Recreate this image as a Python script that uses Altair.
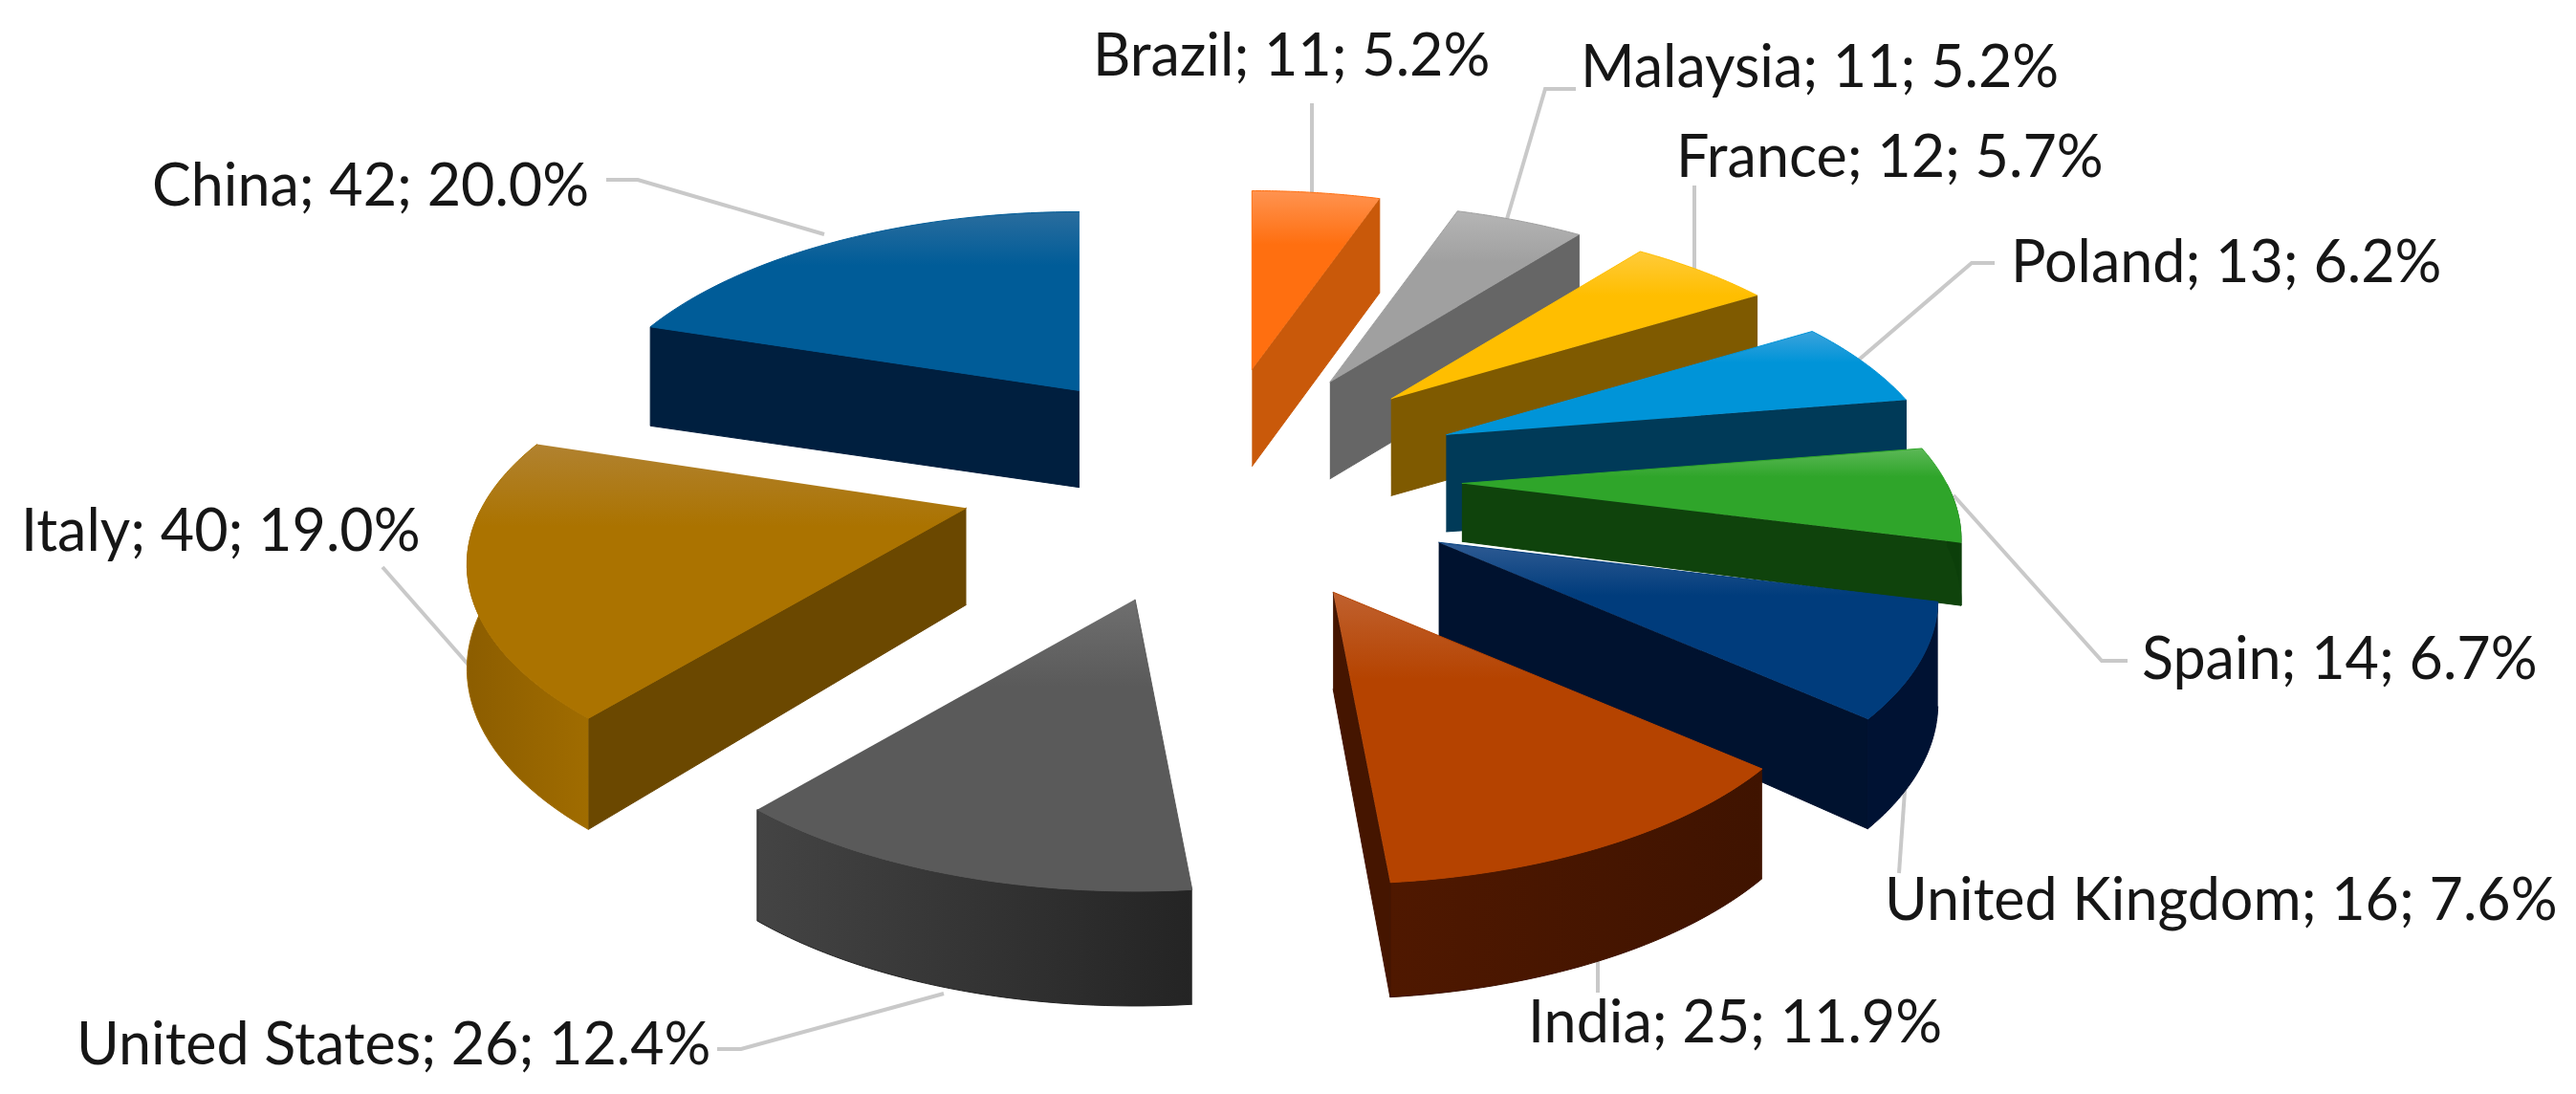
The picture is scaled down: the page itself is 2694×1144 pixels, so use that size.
import math
import altair as alt
import pandas as pd

names = ["Brazil", "Malaysia", "France", "Poland", "Spain", "United Kingdom", "India", "United States", "Italy", "China"]
values = [11, 11, 12, 13, 14, 16, 25, 26, 40, 42]

# face colours: highlight, top, outer wall left, outer wall right, cut wall
palette = {
    "Brazil": ("#ff9350", "#ff6f10", "#c85a10", "#c85a10", "#c9590a"),
    "Malaysia": ("#b5b5b5", "#a0a0a0", "#666666", "#666666", "#666666"),
    "France": ("#ffcb3a", "#ffbe00", "#7f5a00", "#7f5a00", "#7f5a00"),
    "Poland": ("#3ba3dc", "#0094d8", "#003a58", "#003a58", "#003a58"),
    "Spain": ("#5cb857", "#2fa52a", "#0c3f0a", "#0c3f0a", "#0f430c"),
    "United Kingdom": ("#2f5b93", "#003c7c", "#001233", "#001233", "#00122f"),
    "India": ("#c0612f", "#b54300", "#4f1800", "#3f1300", "#451500"),
    "United States": ("#6f6f6f", "#5a5a5a", "#444444", "#242424", "#2b2b2b"),
    "Italy": ("#b18230", "#ab7300", "#8c5d00", "#a06c00", "#6b4800"),
    "China": ("#2a6d9e", "#005c98", "#001f3f", "#001f3f", "#001f3f"),
}
draw_order = ["Brazil", "Malaysia", "France", "Poland", "Spain", "United Kingdom", "China", "Italy", "United States", "India"]

# small per-slice shifts of the exploded apex (layout, shrunk-reference pixels)
nudge = {
    "France": (-4, -5), "Poland": (0, -6), "Spain": (0, -5), "United Kingdom": (4, 0),
    "India": (6, 0), "United States": (-1, 0), "Italy": (-2, -7), "China": (10, 0),
}
depth_factor = {"Spain": 0.6}

# label anchors and leader polylines, in reference pixels
label_at = {
    "Brazil": (1143, 61), "Malaysia": (1653, 73), "France": (1753, 167), "Poland": (2103, 277),
    "Spain": (2240, 692), "United Kingdom": (1971, 944), "India": (1598, 1072),
    "United States": (80, 1095), "Italy": (22, 558), "China": (159, 197),
}
leaders = {
    "Brazil": [(1372, 108), (1372, 202)],
    "Malaysia": [(1648, 93), (1616, 93), (1576, 229)],
    "France": [(1772, 194), (1772, 284)],
    "Poland": [(2086, 275), (2062, 275), (1943, 377)],
    "Spain": [(2225, 691), (2198, 691), (2043, 518)],
    "United Kingdom": [(1986, 913), (1993, 813)],
    "India": [(1671, 1038), (1671, 999)],
    "United States": [(750, 1097), (775, 1097), (987, 1039)],
    "Italy": [(400, 593), (502, 709)],
    "China": [(634, 188), (667, 188), (862, 245)],
}

W, H = 2678, 1128
S = 2694 / 1568
CX, CY, EX, EY = 737 * S, 296 * S, 153 * S, 72 * S   # pie centre and explosion
RX, RY = 295 * S, 135 * S                            # radii of the tilted disc
PERSP = 0.24
DEPTH = 62 * S

xs = alt.X("x:Q", axis=None, scale=alt.Scale(domain=[8, 8 + W], range=[0, W], nice=False, zero=False))
ys = alt.Y("y:Q", axis=None, scale=alt.Scale(domain=[8, 8 + H], range=[0, H], nice=False, zero=False))

total = sum(values)
fracs = {}
acc = 0
for n, v in zip(names, values):
    fracs[n] = (acc / total * 2 * math.pi, (acc + v) / total * 2 * math.pi)
    acc += v


def rim(ax, ay, t):
    s = 1 / (1 + PERSP * math.cos(t))
    return ax + RX * math.sin(t) * s, ay - RY * math.cos(t) * s


def depth(t):
    s = 1 / (1 + PERSP * math.cos(t))
    return DEPTH * (1 + (s - 1) * 0.4)


def face(points, fill):
    df = pd.DataFrame([{"x": x, "y": y, "i": i} for i, (x, y) in enumerate(points)])
    stroke = fill if isinstance(fill, str) else fill.stops[-1].color
    return alt.Chart(df).mark_line(fill=fill, stroke=stroke, strokeWidth=1, clip=False).encode(
        x=xs, y=ys, order="i:Q")


def vgrad(c0, c1):
    return alt.Gradient(gradient="linear", x1=0, y1=0, x2=0, y2=1,
                        stops=[alt.GradientStop(color=c0, offset=0),
                               alt.GradientStop(color=c1, offset=0.3),
                               alt.GradientStop(color=c1, offset=1)])


def hgrad(c0, c1):
    return alt.Gradient(gradient="linear", x1=0, y1=0, x2=1, y2=0,
                        stops=[alt.GradientStop(color=c0, offset=0),
                               alt.GradientStop(color=c1, offset=1)])


layers = []
for n in draw_order:
    t0, t1 = fracs[n]
    mid = (t0 + t1) / 2
    nx, ny = nudge.get(n, (0, 0))
    df_ = depth_factor.get(n, 1)
    ax, ay = CX + EX * math.sin(mid) + nx * S, CY - EY * math.cos(mid) + ny * S
    hi, top, wl, wr, cut = palette[n]
    steps = 40
    ts = [t0 + (t1 - t0) * k / steps for k in range(steps + 1)]
    arc = [rim(ax, ay, t) for t in ts]
    apex_h = DEPTH * 0.95 * df_
    # cut wall
    if t1 < math.pi:
        c = rim(ax, ay, t1)
        layers.append(face([(ax, ay), c, (c[0], c[1] + depth(t1) * df_), (ax, ay + apex_h)], cut))
    if t0 > math.pi:
        c = rim(ax, ay, t0)
        layers.append(face([(ax, ay), c, (c[0], c[1] + depth(t0) * df_), (ax, ay + apex_h)], cut))
    # outer wall
    front = [t for t in ts if math.pi / 2 <= t <= 3 * math.pi / 2]
    if len(front) > 1:
        upper = [rim(ax, ay, t) for t in front]
        lower = [(p[0], p[1] + depth(t) * df_) for p, t in zip(upper, front)]
        layers.append(face(upper + lower[::-1], hgrad(wl, wr)))
    # top
    layers.append(face([(ax, ay)] + arc, vgrad(hi, top)))

for n, pts in leaders.items():
    df = pd.DataFrame([{"x": x, "y": y, "i": i} for i, (x, y) in enumerate(pts)])
    layers.insert(0, alt.Chart(df).mark_line(color="#c9c9c9", strokeWidth=4).encode(x=xs, y=ys, order="i:Q"))

labels = pd.DataFrame([
    {"x": label_at[n][0], "y": label_at[n][1], "t": f"{n}; {v}; {v / total * 100:.1f}%"}
    for n, v in zip(names, values)
])
layers.append(alt.Chart(labels).mark_text(align="left", baseline="middle", font="Lato", fontSize=61, color="#161616")
              .encode(x=xs, y=ys, text="t:N"))

chart = alt.layer(*layers).properties(
    width=W, height=H, background="white", padding=0,
    autosize=alt.AutoSizeParams(type="none"),
).configure_view(stroke=None)
chart.save("out.html", embed_options={"renderer": "svg", "actions": False})
